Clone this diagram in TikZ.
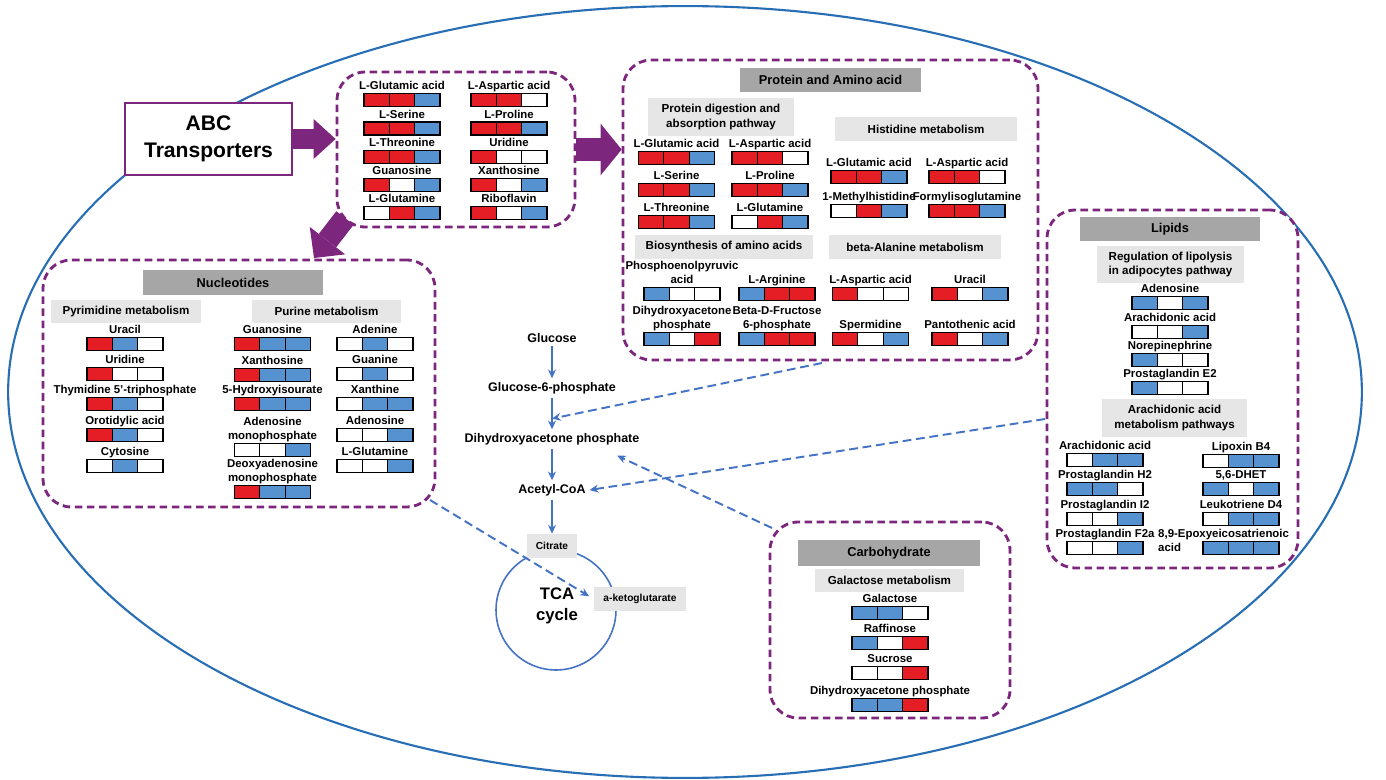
\documentclass[tikz,border=0pt]{standalone}
\usepackage{fontspec}
\setmainfont{Liberation Sans}
\usetikzlibrary{arrows.meta,calc,positioning}

\definecolor{cr}{RGB}{228,30,36}
\definecolor{cb}{RGB}{86,146,208}
\definecolor{cw}{RGB}{255,255,255}
\definecolor{grp}{RGB}{125,38,125}
\definecolor{hdgray}{RGB}{166,166,166}
\definecolor{subgray}{RGB}{231,230,230}
\definecolor{flowblue}{RGB}{68,114,196}
\definecolor{ringblue}{RGB}{40,110,180}

\tikzset{
  cell/.style={draw=black, line width=0.7pt, minimum width=0.508cm,
    minimum height=0.26cm, inner sep=0pt, outer sep=0pt},
  met/.style={font=\fontsize{6.5}{8}\selectfont\bfseries, align=center,
    inner sep=0.5pt, text depth=0pt},
  group/.style={draw=grp, fill=white, line width=1.6pt,
    dash pattern=on 4.3pt off 2.6pt, rounded corners=16pt, inner sep=0pt},
  hdr/.style={fill=hdgray, font=\fontsize{7.3}{8.5}\selectfont\bfseries,
    inner sep=0pt, minimum height=0.48cm},
  sub/.style={fill=subgray, font=\fontsize{6.6}{8}\selectfont\bfseries,
    align=center, inner sep=0pt, minimum height=0.48cm},
  pw/.style={font=\fontsize{7.1}{8.5}\selectfont\bfseries, inner sep=2pt},
  flow/.style={draw=flowblue, line width=1.1pt,
    -{Stealth[length=5pt, width=4.5pt]}},
  link/.style={flow, dash pattern=on 5pt off 2.7pt},
  ring/.style={draw=ringblue, line width=1.2pt}
}

% one metabolite: name, centre of bar, label, three cell colours (r/b/w)
\newcommand{\metab}[6]{%
  \node[cell, fill=c#5] (#1) at #2 {};
  \node[cell, fill=c#4, anchor=east] (#1-l) at (#1.west) {};
  \node[cell, fill=c#6, anchor=west] (#1-r) at (#1.east) {};
  \node[met, anchor=south] (#1-t) at ([yshift=1.4pt]#1.north) {#3};
}

\begin{document}
\begin{tikzpicture}[x=0.02cm, y=-0.02cm]
  \useasboundingbox (0,0) rectangle (1386,780);
  % cell outline
  \draw[ring] (685,392) ellipse [x radius=13.54cm, y radius=7.72cm];

  % transporter and groups
  \node[draw=grp, line width=1.1pt, fill=white, minimum width=3.34cm,
    minimum height=1.44cm, align=center,
    font=\fontsize{12}{15.5}\selectfont\bfseries] (abc) at (208.5,139)
    {ABC\\Transporters};
  \node[group, minimum width=4.76cm, minimum height=3.1cm] (tset) at (456,149.5) {};
  \node[group, minimum width=8.3cm, minimum height=6cm] (prot) at (830.5,210) {};
  \node[group, minimum width=7.84cm, minimum height=4.94cm] (nuc) at (239,383.5) {};
  \node[group, minimum width=5.02cm, minimum height=7.16cm] (lip) at (1172.5,389) {};
  \node[group, minimum width=4.8cm, minimum height=3.92cm] (carb) at (890,620) {};

  % block arrows
  \draw[grp, line width=11.9pt,
    -{Triangle[length=12.5pt, width=22.7pt, line width=0pt]}]
    (abc.east) -- (abc.east -| tset.west);
  \draw[grp, line width=13pt,
    -{Triangle[length=12pt, width=29.5pt, line width=0pt]}]
    (tset.east) -- (tset.east -| prot.west);
  \coordinate (tset-out) at (345,218);
  \coordinate (nuc-in) at (314,258);
  \draw[grp, line width=12.5pt,
    -{Triangle[length=12.5pt, width=25.5pt, line width=0pt]}]
    (tset-out) -- (nuc-in);

  % transported metabolites
  \metab{t1}{(402,100)}{L-Glutamic acid}{r}{r}{b}
  \metab{t2}{(402,128.5)}{L-Serine}{r}{r}{b}
  \metab{t3}{(402,157)}{L-Threonine}{r}{r}{b}
  \metab{t4}{(402,185)}{Guanosine}{r}{w}{b}
  \metab{t5}{(402,213)}{L-Glutamine}{w}{r}{b}
  \metab{t6}{(509,100)}{L-Aspartic acid}{r}{r}{w}
  \metab{t7}{(509,128.5)}{L-Proline}{r}{r}{b}
  \metab{t8}{(509,157)}{Uridine}{r}{w}{w}
  \metab{t9}{(509,185)}{Xanthosine}{r}{w}{b}
  \metab{t10}{(509,213)}{Riboflavin}{r}{w}{b}

  % protein and amino acid
  \node[hdr, minimum width=3.62cm] (prot-h) at (830.5,80) {Protein and Amino acid};
  \node[sub, minimum width=2.92cm, minimum height=0.76cm] (prot-s1) at (721,117)
    {Protein digestion and\\absorption pathway};
  \node[sub, minimum width=3.64cm] (prot-s2) at (926,129) {Histidine metabolism};
  \node[sub, minimum width=3.56cm] (prot-s3) at (724,247) {Biosynthesis of amino acids};
  \node[sub, minimum width=3.44cm] (prot-s4) at (915,247) {beta-Alanine metabolism};
  \metab{p1}{(676.5,158)}{L-Glutamic acid}{r}{r}{b}
  \metab{p2}{(676.5,190)}{L-Serine}{r}{r}{b}
  \metab{p3}{(676.5,222)}{L-Threonine}{r}{r}{b}
  \metab{p4}{(770,158)}{L-Aspartic acid}{r}{r}{w}
  \metab{p5}{(770,190)}{L-Proline}{r}{r}{b}
  \metab{p6}{(770,222)}{L-Glutamine}{w}{r}{b}
  \metab{p7}{(869,177)}{L-Glutamic acid}{r}{r}{b}
  \metab{p8}{(869,211)}{1-Methylhistidine}{w}{r}{b}
  \metab{p9}{(967,177)}{L-Aspartic acid}{r}{r}{w}
  \metab{p10}{(967,211)}{Formylisoglutamine}{r}{r}{b}
  \metab{p11}{(682,294)}{Phosphoenolpyruvic\\acid}{b}{w}{w}
  \metab{p12}{(682,339)}{Dihydroxyacetone\\phosphate}{b}{w}{r}
  \metab{p13}{(777,294)}{L-Arginine}{b}{r}{r}
  \metab{p14}{(777,339)}{Beta-D-Fructose\\6-phosphate}{b}{r}{r}
  \metab{p15}{(870.5,294)}{L-Aspartic acid}{r}{w}{w}
  \metab{p16}{(870.5,339)}{Spermidine}{r}{w}{b}
  \metab{p17}{(970,294)}{Uracil}{r}{w}{b}
  \metab{p18}{(970,339)}{Pantothenic acid}{r}{w}{b}

  % nucleotides
  \node[hdr, minimum width=3.6cm, minimum height=0.5cm] (nuc-h) at (233,282.5) {Nucleotides};
  \node[sub, minimum width=3cm, minimum height=0.46cm] (nuc-s1) at (126,311.5) {Pyrimidine metabolism};
  \node[sub, minimum width=2.98cm, minimum height=0.46cm] (nuc-s2) at (326.5,311.5) {Purine metabolism};
  \metab{n1}{(125,344)}{Uracil}{r}{b}{w}
  \metab{n2}{(125,374)}{Uridine}{r}{w}{w}
  \metab{n3}{(125,404)}{Thymidine 5'-triphosphate}{r}{b}{w}
  \metab{n4}{(125,435)}{Orotidylic acid}{r}{b}{w}
  \metab{n5}{(125,466)}{Cytosine}{w}{b}{w}
  \metab{n6}{(272.5,344)}{Guanosine}{r}{b}{b}
  \metab{n7}{(272.5,375)}{Xanthosine}{r}{b}{b}
  \metab{n8}{(272.5,404)}{5-Hydroxyisourate}{r}{b}{b}
  \metab{n9}{(272.5,450)}{Adenosine\\monophosphate}{w}{w}{b}
  \metab{n10}{(272.5,492)}{Deoxyadenosine\\monophosphate}{r}{b}{b}
  \metab{n11}{(375,344)}{Adenine}{w}{b}{w}
  \metab{n12}{(375,374)}{Guanine}{w}{b}{w}
  \metab{n13}{(375,404)}{Xanthine}{w}{b}{b}
  \metab{n14}{(375,435)}{Adenosine}{w}{w}{b}
  \metab{n15}{(375,466)}{L-Glutamine}{w}{w}{b}

  % lipids
  \node[hdr, minimum width=3.6cm] (lip-h) at (1170,229) {Lipids};
  \node[sub, minimum width=2.94cm, minimum height=0.74cm] (lip-s1) at (1170.5,264.5)
    {Regulation of lipolysis\\in adipocytes pathway};
  \node[sub, minimum width=2.9cm, minimum height=0.76cm] (lip-s2) at (1174.5,418)
    {Arachidonic acid\\metabolism pathways};
  \metab{l1}{(1170,303)}{Adenosine}{b}{w}{b}
  \metab{l2}{(1170,332)}{Arachidonic acid}{w}{w}{b}
  \metab{l3}{(1170,360)}{Norepinephrine}{b}{w}{w}
  \metab{l4}{(1170,388)}{Prostaglandin E2}{b}{w}{w}
  \metab{l5}{(1105,460)}{Arachidonic acid}{w}{b}{b}
  \metab{l6}{(1105,489)}{Prostaglandin H2}{b}{b}{w}
  \metab{l7}{(1105,519)}{Prostaglandin I2}{w}{w}{b}
  \metab{l8}{(1105,548)}{Prostaglandin F2a}{w}{w}{b}
  \metab{l9}{(1241,461)}{Lipoxin B4}{w}{b}{b}
  \metab{l10}{(1241,489)}{5,6-DHET}{b}{w}{b}
  \metab{l11}{(1241,519)}{Leukotriene D4}{w}{b}{b}
  \metab{l12}{(1241,548)}{}{b}{b}{b}
  \node[met, align=left, anchor=south west] (l12-x) at (1157,552.5)
    {8,9-Epoxyeicosatrienoic\\acid};

  % carbohydrate
  \node[hdr, minimum width=3.64cm, minimum height=0.52cm] (carb-h) at (889,553) {Carbohydrate};
  \node[sub, minimum width=2.98cm, minimum height=0.46cm] (carb-s1) at (889.5,580.5) {Galactose metabolism};
  \metab{c1}{(890,613)}{Galactose}{b}{b}{w}
  \metab{c2}{(890,643)}{Raffinose}{b}{w}{r}
  \metab{c3}{(890,673)}{Sucrose}{w}{w}{r}
  \metab{c4}{(890,705)}{Dihydroxyacetone phosphate}{b}{b}{r}

  % central pathway
  \node[pw] (glc) at (552,338) {Glucose};
  \node[pw] (g6p) at (552,388) {Glucose-6-phosphate};
  \node[pw] (dhap) at (552,439) {Dihydroxyacetone phosphate};
  \node[pw] (acoa) at (552,490) {Acetyl-CoA};
  \node[circle, draw=flowblue, line width=0.9pt, minimum size=2.4cm,
    inner sep=0pt] (tca) at (556,610) {};
  \node[font=\fontsize{9.5}{12}\selectfont\bfseries, align=center] (tca-t)
    at (557,606) {TCA\\cycle};
  \node[sub, font=\fontsize{5.8}{7}\selectfont\bfseries, minimum width=1cm]
    (cit) at (552,546) {Citrate};
  \node[sub, font=\fontsize{5.8}{7}\selectfont\bfseries, minimum width=1.84cm]
    (akg) at (640,599) {a-ketoglutarate};
  \draw[flow] (glc) -- (g6p);
  \draw[flow] (g6p) -- (dhap);
  \draw[flow] (dhap) -- (acoa);
  \draw[flow] (acoa) -- (cit);

  % links from the groups
  \coordinate (prot-out) at (822,363);
  \coordinate (lip-out) at (1045,419);
  \coordinate (carb-out) at (772,528);
  \coordinate (nuc-out) at (430,500);
  \draw[link] (prot-out) -- ($(g6p)!0.6!(dhap)$);
  \draw[link] (lip-out) -- (acoa.east);
  \draw[link] (carb-out) -- ($(dhap.south east)+(-26,7)$);
  \draw[link, shorten >=3pt] (nuc-out) -- (akg.west);
\end{tikzpicture}
\end{document}
